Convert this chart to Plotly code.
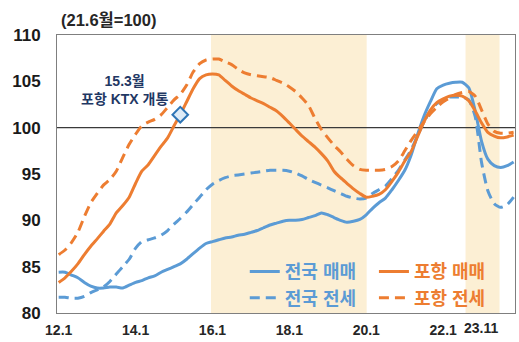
import pandas as pd
import plotly.graph_objects as go

# Bi-monthly index values (21.6 = 100), 2012.1 - 2023.11
months = pd.date_range("2012-01-01", "2023-11-01", freq="2MS")

nat_sale = [
    84.4, 84.4, 84.1, 83.8, 83.3, 82.9, 82.7, 82.7, 82.8, 82.8, 82.7, 83.0,
    83.3, 83.5, 83.8, 84.0, 84.4, 84.7, 85.0, 85.3, 85.8, 86.4, 87.0, 87.5,
    87.7, 87.9, 88.1, 88.2, 88.4, 88.5, 88.7, 88.9, 89.2, 89.5, 89.7, 89.9,
    90.0, 90.0, 90.1, 90.3, 90.5, 90.8, 90.6, 90.3, 90.0, 89.8, 89.9, 90.1,
    90.6, 91.3, 91.9, 92.4, 93.3, 94.3, 95.4, 97.0, 99.2, 101.2, 102.8, 104.2,
    104.6, 104.8, 104.9, 104.9, 104.3, 101.8, 98.5, 96.6, 95.9, 95.7, 95.9, 96.3,
]
nat_jeonse = [
    81.7, 81.7, 81.6, 81.6, 81.8, 82.2, 82.5, 82.8, 83.4, 84.2, 85.0, 85.8,
    87.0, 87.7, 87.9, 88.1, 88.4, 88.9, 89.6, 90.2, 90.9, 91.7, 92.5, 93.3,
    93.9, 94.3, 94.6, 94.8, 94.9, 95.0, 95.1, 95.2, 95.3, 95.4, 95.4, 95.4,
    95.3, 95.1, 94.8, 94.4, 94.1, 93.8, 93.5, 93.2, 92.9, 92.6, 92.4, 92.3,
    92.4, 92.9, 93.3, 93.7, 94.5, 95.4, 96.5, 97.6, 99.1, 100.6, 101.8, 102.6,
    103.0, 103.3, 103.3, 103.3, 103.0, 101.2, 96.2, 93.2, 91.8, 91.4, 91.7, 92.5,
]
ph_sale = [
    83.3, 83.8, 84.5, 85.3, 86.3, 87.2, 88.0, 88.8, 89.6, 90.8, 91.6, 92.5,
    94.0, 95.3, 96.0, 97.0, 98.0, 98.9, 100.2, 101.4, 102.8, 104.2, 105.3, 105.7,
    105.8, 105.7, 105.1, 104.5, 104.0, 103.6, 103.2, 102.9, 102.6, 102.2, 101.8, 101.2,
    100.5, 99.8, 99.1, 98.5, 97.9, 97.2, 96.4, 95.3, 94.6, 94.0, 93.4, 92.9,
    92.5, 92.6, 92.8, 93.3, 94.2, 95.2, 96.4, 97.4, 99.0, 100.6, 101.9, 102.7,
    103.1, 103.4, 103.5, 103.4, 102.9, 101.8, 100.5, 99.5, 99.1, 98.9, 99.0, 99.2,
]
ph_jeonse = [
    86.3, 86.8, 87.6, 88.7, 90.4, 91.9, 92.9, 93.8, 94.4, 95.3, 96.8, 98.2,
    99.3, 100.2, 100.6, 100.9, 101.4, 102.2, 103.0, 103.6, 104.6, 106.0, 106.9, 107.3,
    107.4, 107.4, 107.1, 106.8, 106.3, 105.9, 105.7, 105.6, 105.5, 105.4, 105.1, 104.8,
    104.4, 103.9, 103.2, 102.4, 101.0, 99.8, 98.9, 98.1, 97.4, 96.6, 95.9, 95.5,
    95.4, 95.4, 95.4, 95.5, 95.8, 96.4, 97.5, 98.6, 99.6, 100.6, 101.5, 102.2,
    102.8, 103.2, 103.6, 103.8, 103.9, 103.4, 101.9, 100.4, 99.6, 99.4, 99.4, 99.5,
]

tick_dates = ["2012-01-01", "2014-01-01", "2016-01-01", "2018-01-01", "2020-01-01", "2022-01-01"]
tick_text = ["12.1", "14.1", "16.1", "18.1", "20.1", "22.1"]
last_label = "23.11"

shade_periods = [("2015-12-18", "2020-01-05"), ("2022-08-01", "2023-06-20")]
ktx_month = pd.Timestamp("2015-03-01")

BLUE = "#5B9BD5"
ORANGE = "#ED7D31"
FONT = "Arial, Liberation Sans, Noto Sans CJK KR, sans-serif"
DASH = "10px,6px"

fig = go.Figure()

series = [
    ("전국 매매", nat_sale, BLUE, "solid", "legend"),
    ("전국 전세", nat_jeonse, BLUE, DASH, "legend"),
    ("포항 매매", ph_sale, ORANGE, "solid", "legend2"),
    ("포항 전세", ph_jeonse, ORANGE, DASH, "legend2"),
]
for name, vals, color, dash, leg in series:
    fig.add_trace(go.Scatter(
        x=months, y=vals, name=name, mode="lines",
        line=dict(color=color, width=3, dash=dash, shape="spline", smoothing=0.6),
        legend=leg, legendgroup=name,
    ))

# KTX opening marker on the Pohang sale series
ktx_idx = list(months).index(ktx_month)
fig.add_trace(go.Scatter(
    x=[months[ktx_idx]], y=[ph_sale[ktx_idx]], mode="markers", showlegend=False,
    marker=dict(symbol="diamond", size=12, color="#DDEBF7",
                line=dict(color="#2E75B6", width=2)),
))

for x0, x1 in shade_periods:
    fig.add_shape(type="rect", xref="x", yref="paper", x0=x0, x1=x1, y0=0, y1=1,
                  fillcolor="rgb(252,239,212)", line=dict(width=0), layer="below")

fig.add_shape(type="line", xref="paper", yref="y", x0=0, x1=1, y0=100, y1=100,
              line=dict(color="#3A3A3A", width=1.2), layer="below")

fig.add_annotation(text="15.3월<br>포항 KTX 개통", xref="x", yref="y",
                   x="2013-09-20", y=104.1, showarrow=False,
                   font=dict(family=FONT, size=14, color="#1F3864", weight="bold"))

fig.add_annotation(text="(21.6월=100)", xref="paper", yref="paper", x=0, y=1,
                   xanchor="left", yanchor="bottom", xshift=2, yshift=4, showarrow=False,
                   font=dict(family=FONT, size=16.5, color="#262626", weight="bold"))

fig.add_annotation(text=last_label, xref="x", yref="paper", x=months[-1], y=0,
                   xanchor="right", yanchor="top", xshift=-14, yshift=-5, showarrow=False,
                   font=dict(family=FONT, size=14, color="#262626", weight="bold"))

legend_common = dict(orientation="v", xanchor="left", yanchor="top",
                     bgcolor="rgba(0,0,0,0)", tracegroupgap=0, itemwidth=30)

fig.update_layout(
    width=519, height=342,
    margin=dict(l=57, r=4, t=35, b=29),
    paper_bgcolor="white", plot_bgcolor="white",
    font=dict(family=FONT),
    xaxis=dict(range=["2011-12-16", "2023-11-14"], tickvals=tick_dates, ticktext=tick_text,
               showgrid=False, zeroline=False, showline=True, mirror=True,
               linecolor="#7F7F7F", linewidth=1, ticks="", ticklabelstandoff=4,
               tickfont=dict(family=FONT, size=14, color="#262626", weight="bold")),
    yaxis=dict(range=[80, 110], dtick=5, showgrid=False, zeroline=False,
               showline=True, mirror=True, linecolor="#7F7F7F", linewidth=1,
               ticks="", ticklabelstandoff=12,
               tickfont=dict(family=FONT, size=17, color="#1A1A1A", weight="bold")),
    legend=dict(x=0.41, y=0.215, font=dict(family=FONT, size=18, color=BLUE, weight="bold"),
                **legend_common),
    legend2=dict(x=0.692, y=0.215, font=dict(family=FONT, size=18, color=ORANGE, weight="bold"),
                 **legend_common),
)

fig.write_html("out.html")
